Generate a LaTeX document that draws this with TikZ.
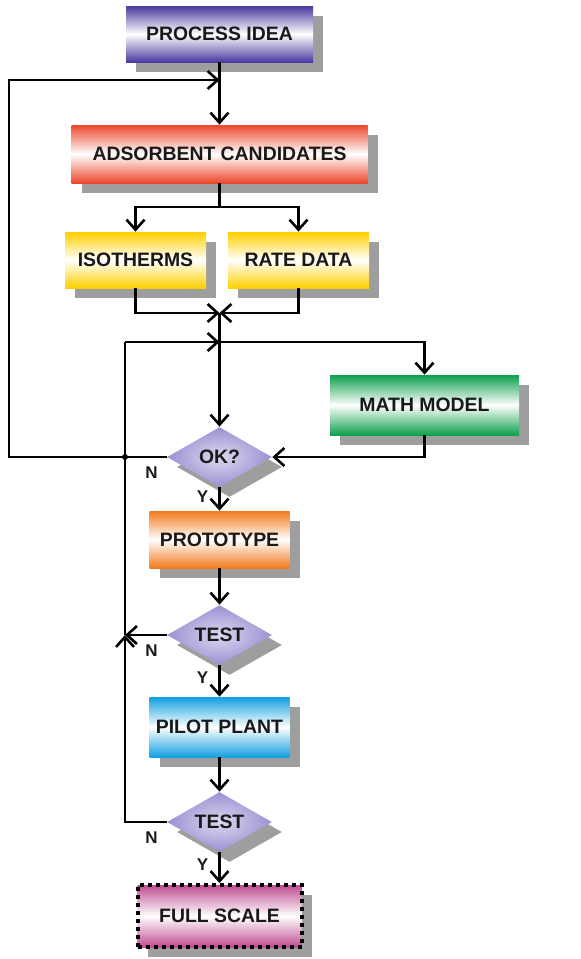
\documentclass[tikz,border=0pt]{standalone}
\usepackage{fontspec}
\setmainfont{Liberation Sans}
\usepackage{xcolor}
\usetikzlibrary{shapes.geometric,arrows.meta,shadows}

\definecolor{ideapurple}{RGB}{74,58,160}
\definecolor{candred}{RGB}{236,72,44}
\definecolor{datayellow}{RGB}{255,208,0}
\definecolor{mathgreen}{RGB}{14,160,76}
\definecolor{protoorange}{RGB}{242,122,30}
\definecolor{pilotcyan}{RGB}{18,160,224}
\definecolor{fullpink}{RGB}{192,76,146}
\definecolor{testlav}{RGB}{156,144,210}

\begin{document}
\begin{tikzpicture}[x=0.5pt,y=-0.5pt,
    flowbox/.style={rectangle, inner sep=0pt, text=black!90,
        font=\bfseries\fontsize{9.7}{11}\selectfont,
        drop shadow={shadow xshift=5pt, shadow yshift=-5pt, fill=black, opacity=0.38},
        top color=#1, bottom color=#1, middle color=white},
    testbox/.style={diamond, aspect=1.75, inner sep=0pt, text=black!90,
        minimum width=52.5pt, minimum height=30pt,
        font=\bfseries\fontsize{9.7}{11}\selectfont,
        drop shadow={shadow xshift=5pt, shadow yshift=-5pt, fill=black, opacity=0.38},
        inner color=testlav!35, outer color=testlav},
    arr/.style={line width=1.3pt, -{Straight Barb[length=5pt,width=9pt,line width=1.3pt]}},
    lin/.style={line width=1.3pt},
    lab/.style={font=\bfseries\fontsize{8.5}{9}\selectfont, text=black!90, inner sep=1pt}]

    \useasboundingbox (0,0) rectangle (580,959);

    %BOXES
    \node[flowbox=ideapurple, minimum width=93.5pt, minimum height=28pt] (idea) at (219.5,34) {PROCESS IDEA};
    \node[flowbox=candred, minimum width=148pt, minimum height=29pt] (cand) at (219.5,154) {ADSORBENT CANDIDATES};
    \node[flowbox=datayellow, minimum width=70.5pt, minimum height=28pt] (iso) at (135.5,260) {ISOTHERMS};
    \node[flowbox=datayellow, minimum width=70.5pt, minimum height=28pt] (rate) at (298.5,260) {RATE DATA};
    \node[flowbox=mathgreen, minimum width=94.5pt, minimum height=30pt] (math) at (424.5,405) {MATH MODEL};
    \node[testbox] (ok) at (219.5,457) {OK?};
    \node[flowbox=protoorange, minimum width=70pt, minimum height=28.5pt] (proto) at (219.5,539.5) {PROTOTYPE};
    \node[testbox] (testa) at (219.5,635) {TEST};
    \node[flowbox=pilotcyan, minimum width=70pt, minimum height=30pt] (pilot) at (219.5,727) {PILOT PLANT};
    \node[testbox] (testb) at (219.5,822) {TEST};
    \node[flowbox=fullpink, minimum width=82pt, minimum height=31pt, draw=black, line width=2pt, dash pattern=on 2pt off 2pt] (full) at (219.5,916) {FULL SCALE};

    %JUNCTIONS
    \coordinate (split) at (219.5,207);
    \coordinate (merge) at (219.5,313);
    \coordinate (loopin) at (219.5,342);
    \coordinate (back) at (125,342);
    \coordinate (cross) at (125,457);
    \coordinate (backa) at (125,635);
    \coordinate (backb) at (125,822);
    \coordinate (farleft) at (9,457);
    \coordinate (fartop) at (9,80);
    \coordinate (topin) at (219.5,80);

    %ARROWS
    \draw[arr] (idea.south) -- (cand.north);
    \draw[lin] (cand.south) -- (split);
    \draw[arr] (split) -| (iso.north);
    \draw[arr] (split) -| (rate.north);
    \draw[arr] (iso.south) |- (merge);
    \draw[arr] (rate.south) |- (merge);
    \draw[arr] (merge) -- (ok.north);
    \draw[arr] (back) -- (loopin);
    \draw[arr] (loopin) -| (math.north);
    \draw[arr] (math.south) |- (ok.east);
    \draw[arr] (ok.west) -- node[lab, below=3pt, pos=0.095]{N} (farleft) -- (fartop) -- (topin);
    \fill (cross) circle (3);
    \draw[arr] (ok.south) -- node[lab, left=4pt, pos=0.4]{Y} (proto.north);
    \draw[arr] (proto.south) -- (testa.north);
    \draw[arr] (testa.west) -- node[lab, below=3pt, pos=0.36]{N} (backa);
    \draw[arr] (testa.south) -- node[lab, left=4pt, pos=0.4]{Y} (pilot.north);
    \draw[arr] (pilot.south) -- (testb.north);
    \draw[arr] (testb.west) -- node[lab, below=3pt, pos=0.36]{N} (backb) -- (backa);
    \draw[lin] (backa) -- (back);
    \draw[arr] (testb.south) -- node[lab, left=4pt, pos=0.4]{Y} (full.north);
\end{tikzpicture}
\end{document}
